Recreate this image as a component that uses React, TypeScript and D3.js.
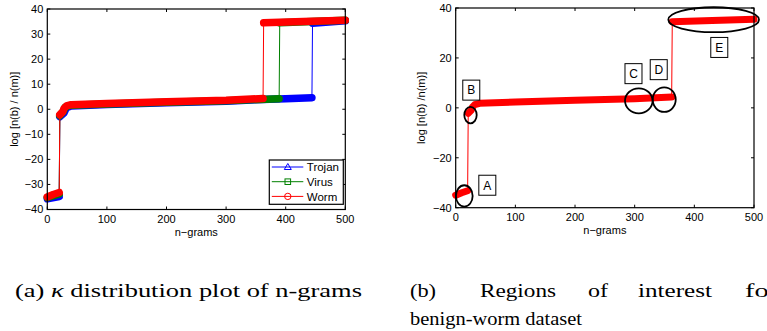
import React from "react";
import * as d3 from "d3";

// x ticks / y ticks
const xTicks = [0, 100, 200, 300, 400, 500];
const yTicksA = [-40, -30, -20, -10, 0, 10, 20, 30, 40];
const yTicksB = [-40, -20, 0, 20, 40];

// [n-gram index, log ratio]
const trojan: [number, number][] = [
  [0, -35.7], [20, -34.8], [21, -3], [28, -1.5], [32, 0.6], [40, 1.3],
  [100, 1.9], [200, 2.6], [300, 3.2], [360, 3.9], [400, 4.2], [444, 4.6],
  [445, 34.3], [500, 35.3],
];
const virus: [number, number][] = [
  [0, -35.3], [20, -33.8], [21, -2.5], [27, -0.8], [30, 0.9], [40, 1.6],
  [100, 2.1], [200, 2.8], [300, 3.4], [389, 4.2],
  [390, 34.5], [500, 35.5],
];
const worm: [number, number][] = [
  [0, -35], [10, -34], [20, -33.2], [21, -2.2], [26, -1], [28, 0.3],
  [32, 1.3], [40, 1.8], [100, 2.3], [200, 3], [300, 3.6], [362, 4.3],
  [363, 34.5], [430, 35], [500, 35.5],
];

const legendNames = ["Trojan", "Virus", "Worm"];

// regions of interest in plot (b): ellipse centre/radii and label box centre, data units
const regionLabels = ["A", "B", "C", "D", "E"];
const regionCx = [14.4, 24.8, 306.9, 349.5, 432.4];
const regionCy = [-35.3, -2.9, 2.8, 3.3, 35.3];
const regionRx = [14, 10.4, 23.1, 19.3, 76];
const regionRy = [4.3, 3.3, 5.0, 4.9, 5.0];
const boxN = [53, 26.1, 298, 340.3, 441.8];
const boxV = [-31, 7.1, 13.7, 15.3, 24.2];

// caption (b), first line is justified
const captionBWords = ["(b)", "Regions", "of", "interest", "for"];
const captionBX = [410, 480, 588, 638, 745];
const captionBW = [26, 76, 20, 74, 33];

const FONT = "'Liberation Sans', Arial, sans-serif";
const SERIF = "'Liberation Serif', 'Times New Roman', serif";

function segments(pts: [number, number][]) {
  // split where the curve jumps (markers only sit on the flat parts)
  const out: [number, number][][] = [];
  let cur: [number, number][] = [];
  pts.forEach((p, i) => {
    if (i > 0 && Math.abs(p[1] - pts[i - 1][1]) > 10) {
      out.push(cur);
      cur = [];
    }
    cur.push(p);
  });
  out.push(cur);
  return out;
}

const fmt = (t: number) => (t < 0 ? "\u2212" + -t : String(t));

function Axes({ x, y, yTicks, ylabel, ylabelX }: any) {
  const [x0, x1] = x.range();
  const [y0, y1] = y.range();
  return (
    <g fontFamily={FONT} fontSize={11} fill="#000">
      <rect x={x0} y={y1} width={x1 - x0} height={y0 - y1} fill="none" stroke="#000" strokeWidth={1.2} />
      {xTicks.map((t) => (
        <g key={"x" + t}>
          <line x1={x(t)} x2={x(t)} y1={y0} y2={y0 - 3} stroke="#000" />
          <line x1={x(t)} x2={x(t)} y1={y1} y2={y1 + 3} stroke="#000" />
          <text x={x(t)} y={y0 + 13.5} textAnchor="middle">{fmt(t)}</text>
        </g>
      ))}
      {yTicks.map((t: number) => (
        <g key={"y" + t}>
          <line x1={x0} x2={x0 + 3} y1={y(t)} y2={y(t)} stroke="#000" />
          <line x1={x1} x2={x1 - 3} y1={y(t)} y2={y(t)} stroke="#000" />
          <text x={x0 - 4} y={y(t)} dy="0.36em" textAnchor="end">{fmt(t)}</text>
        </g>
      ))}
      <text x={(x0 + x1) / 2} y={y0 + 26} textAnchor="middle">{"n\u2212grams"}</text>
      <text transform={`translate(${ylabelX},${(y0 + y1) / 2}) rotate(-90)`} textAnchor="middle">{ylabel}</text>
    </g>
  );
}

function Series({ data, color, x, y, width }: any) {
  const line = d3.line<[number, number]>().x((d) => x(d[0])).y((d) => y(d[1]));
  return (
    <g>
      <path d={line(data) || ""} fill="none" stroke={color} strokeWidth={1} />
      {segments(data).map((s, i) => (
        <path key={i} d={line(s) || ""} fill="none" stroke={color} strokeWidth={width}
          strokeLinecap="round" strokeLinejoin="round" />
      ))}
    </g>
  );
}

export default function App() {
  const xa = d3.scaleLinear().domain([0, 500]).range([47.3, 345.3]);
  const ya = d3.scaleLinear().domain([-40, 40]).range([209.5, 9]);
  const xb = d3.scaleLinear().domain([0, 500]).range([455.7, 754]);
  const yb = d3.scaleLinear().domain([-40, 40]).range([207.7, 8]);

  const colors = ["#0000ff", "#008000", "#ff0000"];
  const seriesA = [trojan, virus, worm];

  const legX = 269.3, legY = 160;

  return (
    <svg width={767} height={331} style={{ position: "absolute", left: 0, top: 0, background: "#fff" }}>
      {/* plot (a) */}
      {seriesA.map((s, i) => (
        <Series key={i} data={s} color={colors[i]} x={xa} y={ya} width={7.5} />
      ))}
      <Axes x={xa} y={ya} yTicks={yTicksA} ylabel="log [n(b) / n(m)]" ylabelX={18} />
      <g fontFamily={FONT} fontSize={11.5}>
        <rect x={legX} y={legY} width={74} height={44.3} fill="#fff" stroke="#000" strokeWidth={1.2} />
        {legendNames.map((nm, i) => {
          const cy = legY + 7 + i * 14.7;
          const mx = legX + 18.5;
          return (
            <g key={nm}>
              <line x1={legX + 2.5} x2={legX + 34} y1={cy} y2={cy} stroke={colors[i]} />
              {i === 0 && <path d={`M${mx},${cy - 3.5}L${mx + 3.5},${cy + 2.5}L${mx - 3.5},${cy + 2.5}Z`} fill="none" stroke={colors[i]} />}
              {i === 1 && <rect x={mx - 2.8} y={cy - 2.8} width={5.6} height={5.6} fill="none" stroke={colors[i]} />}
              {i === 2 && <circle cx={mx} cy={cy} r={3.2} fill="none" stroke={colors[i]} />}
              <text x={legX + 37.5} y={cy} dy="0.36em">{nm}</text>
            </g>
          );
        })}
      </g>

      {/* plot (b) */}
      <Series data={worm} color="#ff0000" x={xb} y={yb} width={7} />
      <Axes x={xb} y={yb} yTicks={yTicksB} ylabel="log [n(b) /n(m)]" ylabelX={425} />
      <g fontFamily={FONT} fontSize={12}>
        {regionLabels.map((lb, i) => {
          const bx = xb(boxN[i]), by = yb(boxV[i]);
          return (
            <g key={lb}>
              <ellipse cx={xb(regionCx[i])} cy={yb(regionCy[i])}
                rx={xb(regionRx[i]) - xb(0)} ry={yb(0) - yb(regionRy[i])}
                fill="none" stroke="#000" strokeWidth={1.8} />
              <rect x={bx - 8.5} y={by - 10} width={17} height={20} fill="#fff" stroke="#000" strokeWidth={1} />
              <text x={bx} y={by} dy="0.36em" textAnchor="middle">{lb}</text>
            </g>
          );
        })}
      </g>

      {/* captions */}
      <g fontFamily={SERIF} fontSize={19} fill="#000">
        <text x={15} y={297} textLength={347} lengthAdjust="spacingAndGlyphs">
          (a) <tspan fontStyle="italic">κ</tspan> distribution plot of n-grams
        </text>
        {captionBWords.map((w, i) => (
          <text key={w} x={captionBX[i]} y={297} textLength={captionBW[i]} lengthAdjust="spacingAndGlyphs">{w}</text>
        ))}
        <text x={410} y={325} textLength={172} lengthAdjust="spacingAndGlyphs">benign-worm dataset</text>
      </g>
    </svg>
  );
}
